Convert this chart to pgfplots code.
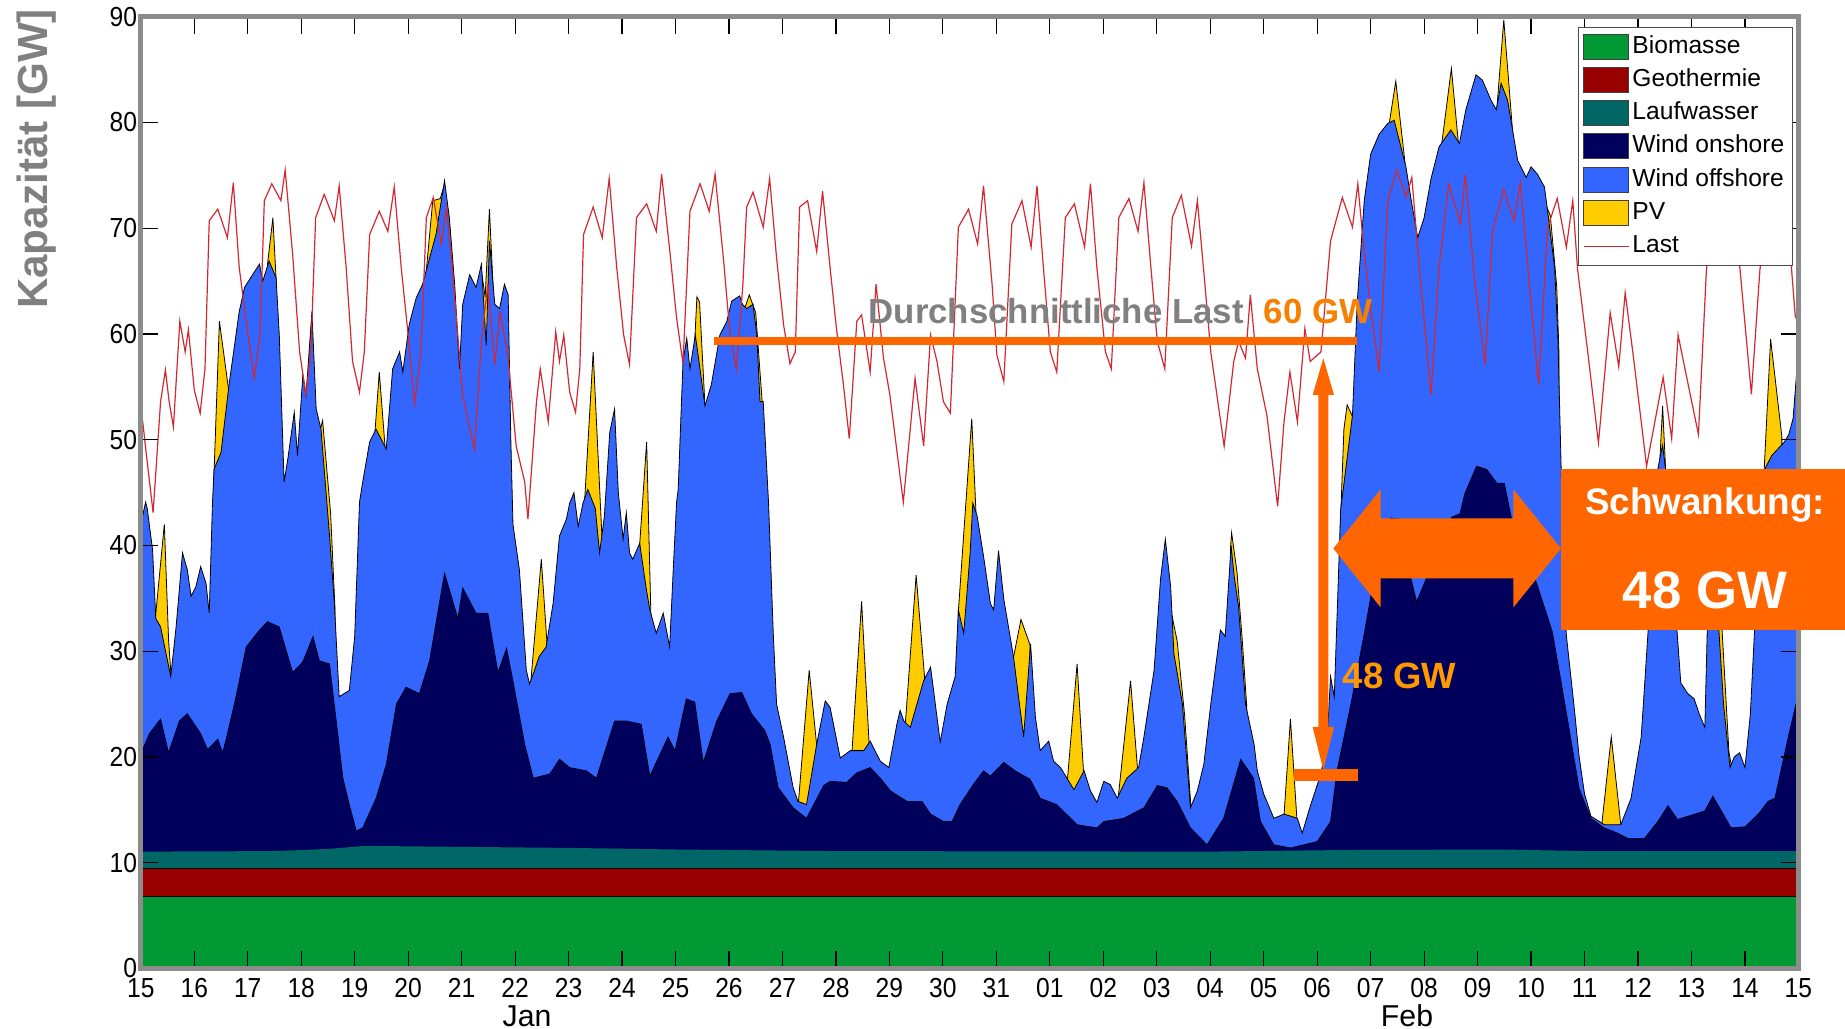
\documentclass[border=0pt]{standalone}
\usepackage{fontspec}
\setmainfont{Liberation Sans}
\usepackage{graphicx}
\usepackage{pgfplots}
\usepackage{pgfplotstable}
\pgfplotsset{compat=1.18}

\definecolor{biom}{RGB}{0,153,51}
\definecolor{geo}{RGB}{153,0,0}
\definecolor{lauf}{RGB}{0,102,102}
\definecolor{won}{RGB}{0,0,92}
\definecolor{woff}{RGB}{51,102,255}
\definecolor{pv}{RGB}{255,204,0}
\definecolor{lastc}{RGB}{210,40,50}
\definecolor{orng}{RGB}{255,102,0}
\definecolor{orng2}{RGB}{247,128,0}
\definecolor{orng3}{RGB}{255,153,0}
\definecolor{txtgray}{RGB}{128,128,128}

\newcommand{\tl}[1]{\scalebox{1}[1.12]{#1}}

\pgfplotsset{
  myarea/.style={legend image code/.code={\draw[##1] (0mm,-1.25mm) rectangle (4.5mm,1.25mm);}},
  myline/.style={legend image code/.code={\draw[##1] (0mm,0mm) -- (4.5mm,0mm);}},
}

% Wind offshore (kumuliert, Oberkante)
\pgfplotstableread[row sep=\\]{
x y\\
0 42.0\\ 0.09 44.1\\ 0.12 43.5\\ 0.22 39.6\\ 0.28 33.1\\ 0.37 32.3\\ 0.56 27.6\\ 0.66 32.3\\
0.78 39.3\\ 0.87 37.7\\ 0.94 35.2\\ 1.03 36.1\\ 1.12 38.0\\ 1.22 36.4\\ 1.28 33.6\\ 1.34 44.0\\
1.37 47.2\\ 1.5 48.8\\ 1.65 55.2\\ 1.84 62.1\\ 1.94 64.4\\ 2.09 65.6\\ 2.22 66.6\\ 2.28 65.0\\
2.4 66.9\\ 2.53 65.3\\ 2.59 59.9\\ 2.68 46.0\\ 2.75 48.2\\ 2.87 52.6\\ 2.93 48.5\\ 3.03 56.1\\
3.09 54.2\\ 3.2 62.1\\ 3.28 52.9\\ 3.37 51.0\\ 3.53 40.9\\ 3.62 34.5\\ 3.71 25.7\\ 3.9 26.3\\
4.0 31.4\\ 4.09 44.1\\ 4.15 46.0\\ 4.28 49.8\\ 4.4 51.0\\ 4.59 49.1\\ 4.71 56.7\\ 4.84 58.3\\
4.9 56.4\\ 5.02 60.9\\ 5.15 63.4\\ 5.27 64.7\\ 5.37 66.6\\ 5.52 69.4\\ 5.68 74.5\\ 5.77 71.0\\
5.87 64.7\\ 5.96 56.7\\ 6.02 62.8\\ 6.15 65.6\\ 6.27 64.4\\ 6.37 66.6\\ 6.46 58.9\\ 6.52 68.8\\
6.62 62.8\\ 6.71 62.4\\ 6.8 64.7\\ 6.87 63.7\\ 6.92 50.0\\ 6.96 42.0\\ 7.08 37.7\\ 7.21 28.2\\
7.27 26.9\\ 7.35 28.0\\ 7.45 29.5\\ 7.58 30.4\\ 7.71 34.5\\ 7.83 40.9\\ 7.96 42.5\\ 8.02 44.0\\
8.1 45.0\\ 8.18 41.8\\ 8.27 44.0\\ 8.36 45.3\\ 8.5 43.5\\ 8.58 39.3\\ 8.67 42.8\\ 8.77 50.7\\
8.86 52.9\\ 8.93 45.0\\ 9.02 40.6\\ 9.08 43.1\\ 9.14 39.3\\ 9.2 38.7\\ 9.33 40.2\\ 9.45 36.0\\
9.52 33.9\\ 9.64 31.7\\ 9.77 33.6\\ 9.89 30.4\\ 9.96 38.0\\ 10.02 44.1\\ 10.05 45.3\\ 10.14 57.4\\
10.21 59.6\\ 10.27 56.7\\ 10.37 59.9\\ 10.45 57.0\\ 10.55 53.2\\ 10.67 55.2\\ 10.83 59.9\\ 10.96 61.2\\
11.05 63.1\\ 11.2 63.6\\ 11.25 62.8\\ 11.33 62.4\\ 11.45 62.8\\ 11.52 59.9\\ 11.58 53.6\\ 11.64 53.6\\
11.74 44.0\\ 11.83 31.4\\ 11.89 25.0\\ 12.02 21.9\\ 12.2 17.1\\ 12.29 15.8\\ 12.45 15.5\\ 12.64 21.2\\
12.8 25.3\\ 12.89 24.7\\ 13.08 19.9\\ 13.27 20.6\\ 13.52 20.6\\ 13.64 21.5\\ 13.83 19.6\\ 13.99 19.0\\
14.14 23.1\\ 14.2 24.4\\ 14.27 23.4\\ 14.39 22.8\\ 14.64 27.2\\ 14.77 28.5\\ 14.95 21.4\\ 15.08 25.0\\
15.23 27.6\\ 15.29 33.9\\ 15.39 31.7\\ 15.51 39.3\\ 15.56 44.0\\ 15.64 42.8\\ 15.76 39.0\\ 15.89 34.5\\
15.95 33.9\\ 16.04 39.5\\ 16.14 34.9\\ 16.32 29.5\\ 16.51 21.9\\ 16.64 30.7\\ 16.73 23.8\\ 16.82 20.6\\
16.98 21.5\\ 17.07 19.6\\ 17.2 19.0\\ 17.32 18.0\\ 17.45 16.9\\ 17.64 18.7\\ 17.76 16.8\\ 17.88 15.7\\
18.01 17.7\\ 18.13 17.4\\ 18.26 16.1\\ 18.44 18.0\\ 18.66 19.0\\ 18.76 21.9\\ 18.95 28.2\\ 19.07 36.8\\
19.16 40.6\\ 19.26 36.1\\ 19.32 29.8\\ 19.48 25.0\\ 19.63 15.2\\ 19.76 16.8\\ 19.88 19.3\\ 20.01 25.0\\
20.19 32.0\\ 20.28 31.4\\ 20.39 40.0\\ 20.45 37.0\\ 20.53 34.2\\ 20.66 25.0\\ 20.82 21.2\\ 20.88 18.7\\
21.0 16.5\\ 21.19 14.2\\ 21.38 14.6\\ 21.63 14.2\\ 21.72 12.8\\ 21.88 15.5\\ 22.07 18.4\\ 22.19 21.9\\
22.25 27.6\\ 22.32 25.7\\ 22.38 34.5\\ 22.44 43.4\\ 22.66 52.3\\ 22.75 63.1\\ 22.88 72.6\\ 23.0 77.0\\
23.16 78.9\\ 23.32 79.9\\ 23.44 80.2\\ 23.66 75.8\\ 23.76 72.6\\ 23.88 69.1\\ 24.0 71.0\\ 24.13 74.7\\
24.28 77.7\\ 24.5 79.3\\ 24.66 78.0\\ 24.78 81.2\\ 24.97 84.5\\ 25.09 84.0\\ 25.25 82.1\\ 25.35 81.2\\
25.44 83.7\\ 25.56 82.1\\ 25.75 76.4\\ 25.91 74.8\\ 26.0 75.8\\ 26.12 75.1\\ 26.25 73.9\\ 26.31 71.6\\
26.44 66.3\\ 26.5 59.9\\ 26.56 47.9\\ 26.62 35.0\\ 26.66 31.5\\ 26.8 25.0\\ 26.9 20.0\\ 27.0 16.5\\
27.12 14.4\\ 27.37 13.6\\ 27.68 13.6\\ 27.87 16.1\\ 28.06 21.9\\ 28.19 32.0\\ 28.25 44.0\\ 28.4 48.0\\
28.46 49.5\\ 28.52 47.0\\ 28.6 41.0\\ 28.7 34.0\\ 28.8 27.0\\ 28.93 26.0\\ 29.05 25.5\\ 29.15 24.0\\
29.25 22.8\\ 29.3 33.0\\ 29.36 41.0\\ 29.42 42.0\\ 29.5 33.0\\ 29.6 25.0\\ 29.72 19.0\\ 29.8 20.0\\
29.9 20.4\\ 30.0 19.0\\ 30.1 24.0\\ 30.18 32.0\\ 30.25 44.0\\ 30.35 47.0\\ 30.5 48.5\\ 30.74 49.8\\
30.82 50.5\\ 30.9 52.0\\ 31 58.5\\
}\offshore

% Wind onshore (kumuliert, Oberkante)
\pgfplotstableread[row sep=\\]{
x y\\
0 20.3\\ 0.16 22.2\\ 0.37 23.6\\ 0.52 20.4\\ 0.72 23.4\\ 0.87 24.1\\ 1.12 22.2\\ 1.25 20.7\\
1.44 21.7\\ 1.53 20.4\\ 1.62 22.2\\ 1.78 25.7\\ 1.97 30.4\\ 2.22 32.0\\ 2.37 32.8\\ 2.59 32.3\\
2.84 28.0\\ 3.03 29.0\\ 3.22 31.4\\ 3.34 29.1\\ 3.53 28.8\\ 3.78 18.0\\ 3.9 15.5\\ 4.03 13.0\\
4.15 13.3\\ 4.4 16.1\\ 4.59 19.3\\ 4.78 25.0\\ 4.96 26.6\\ 5.21 26.0\\ 5.4 29.1\\ 5.68 37.4\\
5.93 33.1\\ 6.02 36.0\\ 6.27 33.6\\ 6.49 33.6\\ 6.68 28.0\\ 6.84 30.3\\ 6.96 27.2\\ 7.18 21.2\\
7.34 18.0\\ 7.65 18.4\\ 7.83 19.8\\ 8.02 19.0\\ 8.33 18.7\\ 8.52 18.0\\ 8.86 23.4\\ 9.08 23.4\\
9.36 23.1\\ 9.52 18.2\\ 9.86 21.9\\ 9.99 20.6\\ 10.2 25.5\\ 10.36 25.2\\ 10.52 19.5\\ 10.77 23.4\\
11.02 26.0\\ 11.24 26.1\\ 11.42 24.1\\ 11.67 22.5\\ 11.77 21.2\\ 11.92 17.1\\ 12.2 15.2\\ 12.45 14.2\\
12.77 17.3\\ 12.89 17.7\\ 13.2 17.6\\ 13.39 18.5\\ 13.64 19.0\\ 13.83 18.0\\ 14.02 16.8\\ 14.33 15.8\\
14.61 15.8\\ 14.77 14.6\\ 15.01 13.9\\ 15.17 13.9\\ 15.32 15.5\\ 15.57 17.4\\ 15.76 18.7\\ 15.89 18.2\\
16.14 19.5\\ 16.35 18.7\\ 16.63 17.9\\ 16.82 16.1\\ 17.13 15.5\\ 17.51 13.6\\ 17.88 13.3\\ 18.01 13.9\\
18.38 14.2\\ 18.76 15.2\\ 19.01 17.3\\ 19.19 17.1\\ 19.38 15.8\\ 19.63 13.3\\ 19.94 11.7\\ 20.25 14.2\\
20.57 19.8\\ 20.81 18.0\\ 20.94 13.9\\ 21.19 11.7\\ 21.5 11.4\\ 22.0 12.0\\ 22.25 13.9\\ 22.37 18.7\\
22.63 25.0\\ 22.87 31.4\\ 23.06 36.8\\ 23.18 40.9\\ 23.38 42.6\\ 23.55 42.5\\ 23.7 38.0\\ 23.86 34.7\\
24.05 37.0\\ 24.3 40.5\\ 24.52 42.7\\ 24.67 43.0\\ 24.76 44.9\\ 24.98 47.5\\ 25.17 47.2\\ 25.36 45.9\\
25.5 45.9\\ 25.64 42.4\\ 25.85 39.5\\ 26.1 36.5\\ 26.4 31.8\\ 26.62 25.4\\ 26.75 21.5\\ 26.9 17.0\\
27.12 14.2\\ 27.37 13.3\\ 27.62 12.8\\ 27.81 12.3\\ 28.12 12.3\\ 28.37 13.9\\ 28.56 15.4\\ 28.74 14.1\\
29.06 14.6\\ 29.25 14.9\\ 29.4 16.3\\ 29.56 14.9\\ 29.74 13.3\\ 30.0 13.4\\ 30.25 14.6\\ 30.43 15.8\\
30.56 16.1\\ 30.81 21.9\\ 31.0 26.0\\
}\onshore

% PV (kumuliert, Spitzen zur Mittagszeit)
\pgfplotstableread[row sep=\\]{
x y\\
0 0\\ 0.27 0\\ 0.27 33.0\\ 0.44 42.0\\ 0.52 31.0\\ 0.57 27.4\\ 0.57 0\\
1.36 0\\ 1.36 45.5\\ 1.47 61.2\\ 1.64 54.8\\ 1.64 0\\
2.37 0\\ 2.37 66.6\\ 2.47 71.0\\ 2.53 65.2\\ 2.53 0\\
3.36 0\\ 3.36 51.0\\ 3.4 51.8\\ 3.55 43.0\\ 3.63 34.2\\ 3.63 0\\
4.38 0\\ 4.38 50.8\\ 4.46 56.4\\ 4.57 49.2\\ 4.57 0\\
5.33 0\\ 5.33 65.5\\ 5.46 72.6\\ 5.6 72.8\\ 5.66 73.8\\ 5.66 0\\
6.36 0\\ 6.36 66.3\\ 6.44 63.5\\ 6.52 71.8\\ 6.6 63.2\\ 6.6 0\\
7.3 0\\ 7.3 27.5\\ 7.49 38.7\\ 7.6 30.5\\ 7.6 0\\
8.3 0\\ 8.3 44.2\\ 8.46 58.3\\ 8.62 41.2\\ 8.62 0\\
9.33 0\\ 9.33 40.1\\ 9.46 49.8\\ 9.54 33.3\\ 9.54 0\\
10.36 0\\ 10.36 59.4\\ 10.4 63.5\\ 10.45 63.0\\ 10.55 53.3\\ 10.55 0\\
11.3 0\\ 11.3 62.5\\ 11.38 63.7\\ 11.5 62.0\\ 11.62 53.6\\ 11.62 0\\
12.3 0\\ 12.3 15.8\\ 12.5 28.2\\ 12.64 21.1\\ 12.64 0\\
13.3 0\\ 13.3 20.5\\ 13.48 34.7\\ 13.62 21.3\\ 13.62 0\\
14.3 0\\ 14.3 23.3\\ 14.5 37.2\\ 14.66 27.4\\ 14.66 0\\
15.29 0\\ 15.29 33.8\\ 15.54 52.0\\ 15.62 43.0\\ 15.62 0\\
16.32 0\\ 16.32 29.4\\ 16.46 33.0\\ 16.63 30.6\\ 16.63 0\\
17.33 0\\ 17.33 17.9\\ 17.51 28.8\\ 17.63 18.6\\ 17.63 0\\
18.28 0\\ 18.28 16.2\\ 18.51 27.2\\ 18.64 18.9\\ 18.64 0\\
19.28 0\\ 19.28 33.5\\ 19.38 31.0\\ 19.52 24.0\\ 19.64 15.2\\ 19.64 0\\
20.38 0\\ 20.38 39.8\\ 20.4 41.2\\ 20.5 37.5\\ 20.6 31.0\\ 20.68 25.0\\ 20.68 0\\
21.38 0\\ 21.38 14.5\\ 21.5 23.6\\ 21.62 14.2\\ 21.62 0\\
22.43 0\\ 22.43 41.5\\ 22.5 51.0\\ 22.56 53.3\\ 22.66 52.2\\ 22.66 0\\
23.35 0\\ 23.35 80.0\\ 23.47 83.9\\ 23.64 76.3\\ 23.64 0\\
24.33 0\\ 24.33 78.0\\ 24.51 85.1\\ 24.64 78.1\\ 24.64 0\\
25.36 0\\ 25.36 81.3\\ 25.49 89.7\\ 25.66 78.8\\ 25.66 0\\
26.3 0\\ 26.3 71.9\\ 26.36 71.2\\ 26.48 64.5\\ 26.52 58.5\\ 26.52 0\\
27.32 0\\ 27.32 13.5\\ 27.5 21.9\\ 27.68 13.5\\ 27.68 0\\
28.41 0\\ 28.41 48.2\\ 28.46 53.2\\ 28.52 46.8\\ 28.52 0\\
29.35 0\\ 29.35 40.5\\ 29.43 46.0\\ 29.55 34.0\\ 29.7 20.5\\ 29.77 18.5\\ 29.77 0\\
30.36 0\\ 30.36 47.2\\ 30.48 59.5\\ 30.69 50.3\\ 30.69 0\\ 31 0\\
}\pvdata

% Laufwasser (kumuliert)
\pgfplotstableread[row sep=\\]{
x y\\
0 11.05\\ 2.5 11.1\\ 3.5 11.3\\ 4.2 11.6\\ 5 11.55\\ 7 11.45\\ 8 11.4\\ 10 11.25\\
13 11.1\\ 20 11.05\\ 22.5 11.2\\ 25.5 11.25\\ 27 11.1\\ 31 11.1\\
}\laufdata

% Last
\pgfplotstableread[row sep=\\]{
x y\\
0 53.3\\ 0.12 47.9\\ 0.23 43.1\\ 0.37 53.6\\ 0.46 56.6\\ 0.53 53.6\\ 0.61 51.2\\ 0.73 61.2\\
0.83 58.3\\ 0.89 60.4\\ 1.0 54.7\\ 1.11 52.5\\ 1.2 56.7\\ 1.28 70.7\\ 1.44 71.8\\ 1.62 69.1\\
1.73 74.3\\ 1.84 66.3\\ 1.97 61.2\\ 2.12 55.8\\ 2.23 59.9\\ 2.31 72.6\\ 2.45 74.2\\ 2.62 72.6\\
2.7 75.5\\ 2.84 67.5\\ 2.97 58.3\\ 3.09 54.2\\ 3.18 58.3\\ 3.27 71.0\\ 3.43 73.2\\ 3.62 70.7\\
3.71 74.0\\ 3.84 66.3\\ 3.96 57.4\\ 4.09 54.5\\ 4.18 58.3\\ 4.28 69.4\\ 4.46 71.6\\ 4.62 69.7\\
4.74 73.9\\ 4.87 66.3\\ 5.0 59.9\\ 5.12 53.4\\ 5.24 58.3\\ 5.34 71.0\\ 5.47 72.9\\ 5.62 68.5\\
5.72 72.0\\ 5.84 65.3\\ 6.02 54.2\\ 6.24 49.1\\ 6.37 59.3\\ 6.49 64.7\\ 6.62 57.1\\ 6.72 62.1\\
6.87 57.7\\ 7.02 49.4\\ 7.18 46.0\\ 7.24 42.5\\ 7.4 53.6\\ 7.47 56.7\\ 7.62 51.7\\ 7.76 60.2\\
7.83 57.4\\ 7.91 59.9\\ 8.02 54.5\\ 8.13 52.6\\ 8.21 56.7\\ 8.28 69.4\\ 8.46 72.0\\ 8.63 69.1\\
8.76 74.7\\ 8.9 66.3\\ 9.03 59.9\\ 9.14 57.1\\ 9.27 71.0\\ 9.46 72.3\\ 9.64 69.7\\ 9.74 75.1\\
9.9 67.5\\ 10.02 61.5\\ 10.14 57.2\\ 10.27 71.6\\ 10.46 74.2\\ 10.63 71.6\\ 10.74 75.1\\ 10.9 66.9\\
11.02 59.9\\ 11.14 56.6\\ 11.26 64.7\\ 11.33 72.0\\ 11.45 73.4\\ 11.64 70.1\\ 11.76 74.7\\ 11.89 67.2\\
12.02 60.9\\ 12.14 57.2\\ 12.24 58.3\\ 12.32 72.0\\ 12.47 72.6\\ 12.64 67.8\\ 12.75 73.5\\ 12.89 66.3\\
13.01 60.5\\ 13.14 55.2\\ 13.25 50.1\\ 13.39 61.2\\ 13.48 61.8\\ 13.64 56.4\\ 13.75 64.7\\ 13.89 57.7\\
14.01 54.2\\ 14.26 44.1\\ 14.48 55.8\\ 14.64 49.4\\ 14.77 59.9\\ 14.89 57.4\\ 15.01 53.6\\ 15.14 52.5\\
15.29 70.1\\ 15.48 71.8\\ 15.65 68.5\\ 15.76 74.0\\ 15.92 64.7\\ 16.01 58.0\\ 16.14 55.5\\ 16.29 70.4\\
16.48 72.6\\ 16.65 68.2\\ 16.76 74.0\\ 16.88 66.3\\ 17.01 58.3\\ 17.13 56.4\\ 17.29 71.0\\ 17.46 72.3\\
17.65 68.2\\ 17.76 74.2\\ 17.88 66.3\\ 18.04 58.3\\ 18.15 56.7\\ 18.29 71.0\\ 18.48 72.8\\ 18.65 69.7\\
18.76 74.3\\ 18.88 66.9\\ 19.01 59.3\\ 19.15 56.7\\ 19.29 71.0\\ 19.46 73.1\\ 19.65 68.3\\ 19.76 72.6\\
19.89 65.3\\ 20.01 58.3\\ 20.26 49.4\\ 20.44 57.4\\ 20.53 59.3\\ 20.66 57.7\\ 20.75 63.7\\ 20.88 56.7\\
21.06 52.3\\ 21.26 43.7\\ 21.38 51.7\\ 21.49 56.4\\ 21.63 51.7\\ 21.77 60.5\\ 21.87 57.4\\ 22.07 58.3\\
22.25 68.8\\ 22.47 72.9\\ 22.66 70.1\\ 22.76 74.2\\ 22.87 68.2\\ 23.0 62.4\\ 23.16 56.4\\ 23.32 72.6\\
23.49 75.5\\ 23.66 72.9\\ 23.77 74.8\\ 23.91 66.3\\ 24.13 54.2\\ 24.28 66.3\\ 24.46 74.2\\ 24.68 70.4\\
24.77 75.1\\ 24.94 65.3\\ 25.14 57.1\\ 25.28 69.7\\ 25.49 73.7\\ 25.68 70.7\\ 25.8 74.3\\ 25.94 66.3\\
26.14 55.2\\ 26.31 70.1\\ 26.49 72.8\\ 26.66 68.2\\ 26.78 72.6\\ 26.87 66.1\\ 27.06 58.3\\ 27.26 49.7\\
27.48 62.0\\ 27.64 56.9\\ 27.76 63.9\\ 27.91 58.0\\ 28.16 47.5\\ 28.47 55.9\\ 28.63 50.1\\ 28.75 59.9\\
28.87 56.9\\ 29.13 50.5\\ 29.28 66.1\\ 29.45 72.5\\ 29.62 70.0\\ 29.74 74.0\\ 29.91 66.0\\ 30.12 54.3\\
30.28 66.1\\ 30.47 72.5\\ 30.64 69.5\\ 30.75 74.0\\ 30.94 61.7\\ 31 61.0\\
}\lastdata

\begin{document}
\begin{tikzpicture}
\useasboundingbox (0,0) rectangle (18.45,10.29);
\begin{axis}[
  at={(1.408cm,0.605cm)}, anchor=south west,
  scale only axis, width=16.576cm, height=9.518cm,
  xmin=0, xmax=31, ymin=0, ymax=90,
  xtick={0,1,...,31},
  xticklabels={\tl{15},\tl{16},\tl{17},\tl{18},\tl{19},\tl{20},\tl{21},\tl{22},\tl{23},\tl{24},\tl{25},\tl{26},\tl{27},\tl{28},\tl{29},\tl{30},\tl{31},\tl{01},\tl{02},\tl{03},\tl{04},\tl{05},\tl{06},\tl{07},\tl{08},\tl{09},\tl{10},\tl{11},\tl{12},\tl{13},\tl{14},\tl{15}},
  ytick={0,10,...,90},
  yticklabel={\tl{\pgfmathprintnumber{\tick}}},
  tick align=inside, tick pos=both,
  major tick length=1.7mm,
  every tick/.style={black, line width=0.12mm},
  axis line style={draw=black!45, line width=0.5mm},
  axis on top,
  /pgf/number format/assume math mode=true,
  xticklabel style={font=\fontsize{7}{8}\selectfont, inner sep=0pt, yshift=-0.95mm},
  yticklabel style={font=\fontsize{7}{8}\selectfont, inner sep=0pt, xshift=-0.3mm},
  legend cell align=left,
  legend style={at={(0.9966,0.9889)}, anchor=north east,
    font=\fontsize{7}{8}\selectfont, draw=black!70, line width=0.1mm,
    inner xsep=0.5mm, inner ysep=0.22mm, row sep=0pt,
    nodes={inner xsep=0.3mm, inner ysep=0.465mm, text height=1.85mm, text depth=0.55mm}},
]
\addplot[fill=pv, draw=black, line width=0.08mm, forget plot] table {\pvdata} \closedcycle;
\addplot[fill=woff, draw=black, line width=0.08mm, forget plot] table {\offshore} \closedcycle;
\addplot[fill=won, draw=black, line width=0.06mm, forget plot] table {\onshore} \closedcycle;
\addplot[fill=lauf, draw=none, forget plot] table {\laufdata} \closedcycle;
\addplot[fill=geo, draw=black, line width=0.08mm, forget plot] coordinates {(0,9.5) (31,9.5)} \closedcycle;
\addplot[fill=biom, draw=black, line width=0.08mm, forget plot] coordinates {(0,6.8) (31,6.8)} \closedcycle;
\addplot[color=lastc, line width=0.12mm, forget plot] table {\lastdata};

\addlegendimage{myarea, fill=biom, draw=black!75, line width=0.1mm}
\addlegendentry{Biomasse}
\addlegendimage{myarea, fill=geo, draw=black!75, line width=0.1mm}
\addlegendentry{Geothermie}
\addlegendimage{myarea, fill=lauf, draw=black!75, line width=0.1mm}
\addlegendentry{Laufwasser}
\addlegendimage{myarea, fill=won, draw=black!75, line width=0.1mm}
\addlegendentry{Wind onshore}
\addlegendimage{myarea, fill=woff, draw=black!75, line width=0.1mm}
\addlegendentry{Wind offshore}
\addlegendimage{myarea, fill=pv, draw=black!75, line width=0.1mm}
\addlegendentry{PV}
\addlegendimage{myline, color=lastc, line width=0.12mm}
\addlegendentry{Last}
\end{axis}

% Monatsnamen
\node[anchor=base, inner sep=0pt, font=\fontsize{8.6}{10}\selectfont] at (5.27,0.02) {Jan};
\node[anchor=base, inner sep=0pt, font=\fontsize{8.6}{10}\selectfont] at (14.07,0.02) {Feb};

% Achsentitel
\node[rotate=90, inner sep=0pt, text=txtgray, font=\fontsize{12}{14}\selectfont\bfseries] at (0.365,8.70) {Kapazität [GW]};

% Durchschnittliche Last
\fill[orng] (7.14,6.839) rectangle (13.57,6.917);
\node[anchor=base west, inner sep=0pt, text=txtgray, font=\fontsize{9.9}{12}\selectfont\bfseries] at (8.68,7.057) {Durchschnittliche Last};
\node[anchor=base west, inner sep=0pt, text=orng2, font=\fontsize{9.9}{12}\selectfont\bfseries] at (12.63,7.057) {60 GW};

% senkrechter Doppelpfeil
\fill[orng] (13.233,6.707) -- (13.340,6.34) -- (13.283,6.34) -- (13.283,3.02) -- (13.340,3.02)
  -- (13.233,2.59) -- (13.126,3.02) -- (13.183,3.02) -- (13.183,6.34) -- (13.126,6.34) -- cycle;
\fill[orng] (12.94,2.48) rectangle (13.577,2.595);
\node[anchor=base west, inner sep=0pt, text=orng3, font=\fontsize{10.4}{12}\selectfont\bfseries] at (13.42,3.40) {48 GW};

% waagerechter Doppelpfeil
\fill[orng] (13.333,4.805) -- (13.807,5.395) -- (13.807,5.105) -- (15.133,5.105) -- (15.133,5.395)
  -- (15.61,4.805) -- (15.133,4.215) -- (15.133,4.505) -- (13.807,4.505) -- (13.807,4.215) -- cycle;

% Kasten
\fill[orng] (15.61,3.99) rectangle (18.45,5.60);
\node[anchor=base, inner sep=0pt, text=white, font=\fontsize{10.5}{12}\selectfont\bfseries] at (17.05,5.14) {Schwankung:};
\node[anchor=base, inner sep=0pt, text=white, font=\fontsize{15}{18}\selectfont\bfseries] at (17.05,4.207) {48 GW};
\end{tikzpicture}
\end{document}
